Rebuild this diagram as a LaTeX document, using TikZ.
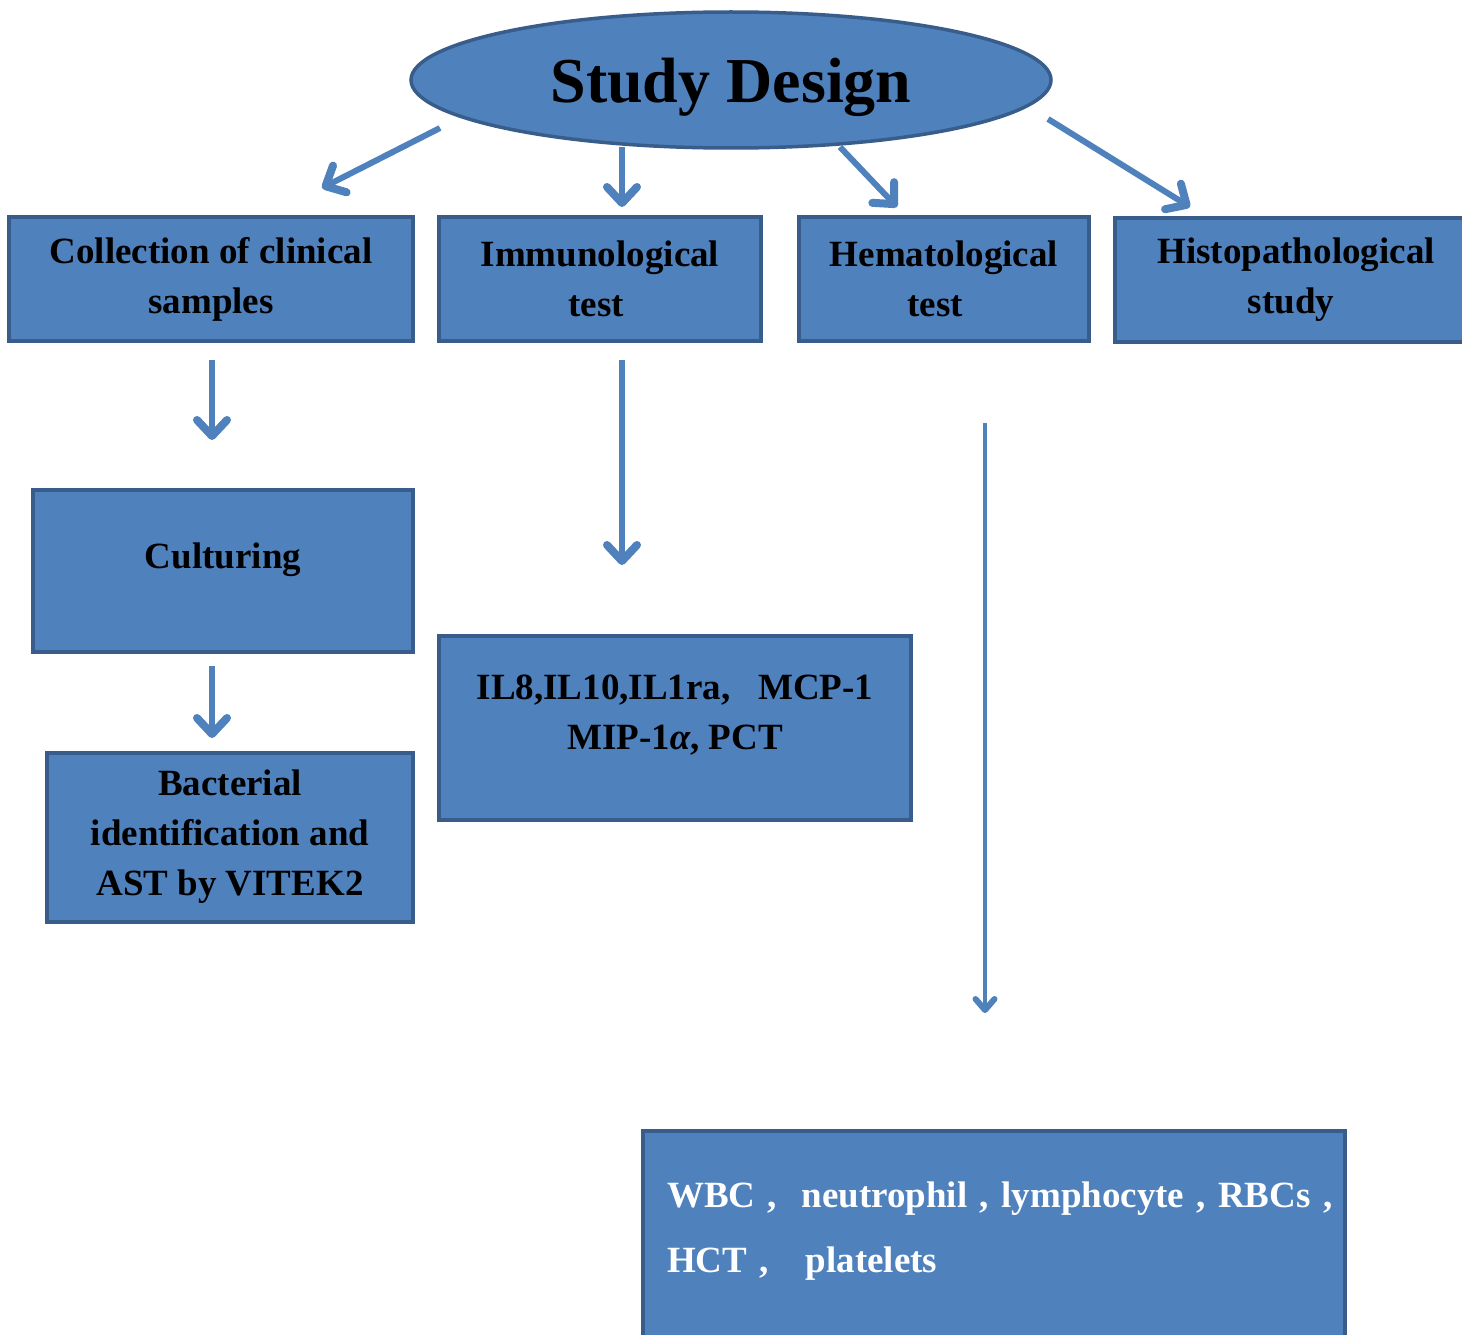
\documentclass[tikz,border=0pt]{standalone}
\usepackage{fontspec}
\setmainfont{Liberation Serif}
\usetikzlibrary{arrows.meta,shapes.geometric}
\definecolor{boxblue}{HTML}{4F81BD}
\definecolor{edgeblue}{HTML}{385D8A}
\tikzset{
  stepbox/.style={draw=edgeblue, line width=4pt, fill=boxblue, rectangle,
    align=center, font=\fontsize{37}{50}\selectfont\bfseries, inner sep=0pt},
  arr/.style={draw=boxblue, line width=6pt,
    -{Straight Barb[round,length=16pt,width=30pt,line width=8pt]}},
  thinarr/.style={draw=boxblue, line width=4pt,
    -{Straight Barb[round,length=11pt,width=19pt,line width=6pt]}},
}
\begin{document}
\begin{tikzpicture}[x=1pt,y=-1pt]
    \clip (0,0) rectangle (1462,1335);
    \fill[white] (0,0) rectangle (1462,1335);
    % top
    \node[ellipse, draw=edgeblue, line width=3.5pt, fill=boxblue,
      minimum width=640pt, minimum height=136pt, inner sep=0pt, text depth=0pt,
      font=\fontsize{64}{70}\selectfont\bfseries] (design) at (731,80) {Study Design};
    % first row
    \node[stepbox, minimum width=404pt, minimum height=124pt] (collect) at (211,279)
      {Collection of clinical\\samples};
    \node[stepbox, minimum width=322pt, minimum height=124pt] (immuno) at (600,279)
      {Immunological\\test\hspace*{8pt}};
    \node[stepbox, minimum width=290pt, minimum height=124pt] (hema) at (944,279)
      {Hematological\\test\hspace*{18pt}};
    \node[stepbox, minimum width=400pt, minimum height=124pt, anchor=west] (histo) at (1113,280)
      {\hspace*{-38pt}Histopathological\\\hspace*{-48pt}study};
    % second level
    \node[stepbox, minimum width=380pt, minimum height=162pt, text depth=30pt] (cult) at (223,571)
      {Culturing};
    \node[stepbox, minimum width=366pt, minimum height=169pt] (bact) at (230,837)
      {Bacterial\\identification and\\AST by VITEK2};
    \node[stepbox, minimum width=472pt, minimum height=184pt, text depth=31pt] (cyto) at (675,728)
      {IL8,IL10,IL1ra, \ \ MCP-1\\MIP-1\textit{α}, PCT};
    \node[stepbox, anchor=north west, align=left, text=white,
      font=\fontsize{37}{65}\selectfont\bfseries, text width=654pt,
      text height=76pt, text depth=150pt, inner xsep=24pt] (blood) at (641,1129)
      {\mbox{WBC , \ neutrophil , lymphocyte , RBCs ,}\\\mbox{HCT , \ \ platelets}};
    % arrows
    \coordinate (a1) at (440,128);  \coordinate (b1) at (322,188);
    \coordinate (a2) at (622,147);  \coordinate (b2) at (622,207);
    \coordinate (a3) at (840,147);  \coordinate (b3) at (897,207);
    \coordinate (a4) at (1048,119); \coordinate (b4) at (1190,207);
    \coordinate (a5) at (212,360);  \coordinate (b5) at (212,440);
    \coordinate (a6) at (622,360);  \coordinate (b6) at (622,565);
    \coordinate (a8) at (212,666);  \coordinate (b8) at (212,738);
    \coordinate (a7) at (985,423);  \coordinate (b7) at (985,1013);
    \foreach \i in {1,2,3,4,5,6,8}{
        \draw[arr] (a\i) -- (b\i);
    }
    \draw[thinarr] (a7) -- (b7);
\end{tikzpicture}
\end{document}
